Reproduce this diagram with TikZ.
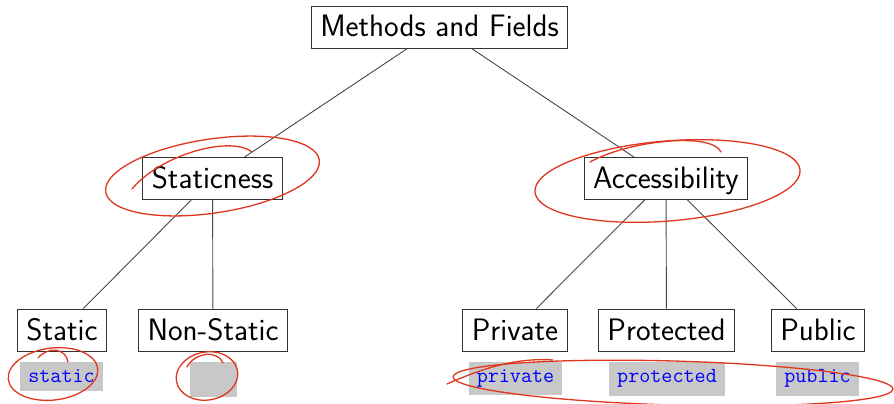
\documentclass[tikz,border=0pt]{standalone}
\usepackage{fontspec}
\definecolor{codegray}{RGB}{200,200,200}
\definecolor{pen}{RGB}{222,55,30}
\begin{document}
\begin{tikzpicture}[x=1pt,y=-1pt,
  tn/.style={draw=black!80, line width=0.9pt, fill=white,
    font=\sffamily\fontsize{31}{36}\selectfont,
    inner xsep=9pt, inner ysep=9.5pt, text height=21.5pt, text depth=1.5pt},
  cb/.style={fill=codegray, text=blue, anchor=north,
    font=\ttfamily\fontsize{21.5}{24}\selectfont,
    inner xsep=8pt, inner ysep=8pt},
  edge/.style={draw=black!72, line width=0.9pt},
  ink/.style={draw=pen, line width=1.3pt, line cap=round}]
\useasboundingbox (0,0) rectangle (894,404);
% tree nodes
\node[tn] (m) at (439.5,27) {Methods and Fields};
\node[tn] (s) at (212.5,178.5) {Staticness};
\node[tn] (a) at (666,178.5) {Accessibility};
\node[tn] (st) at (62,330) {Static};
\node[tn] (ns) at (213,330) {Non-Static};
\node[tn] (pv) at (515,330) {Private};
\node[tn] (pt) at (666.5,330) {Protected};
\node[tn] (pb) at (818,330) {Public};
% code labels
\node[cb] (cst) at (61.5,361.5) {static};
\node[cb, minimum width=47pt, minimum height=35pt] (cns) at (213.5,362) {};
\node[cb] (cpv) at (515.5,361.5) {private};
\node[cb] (cpt) at (667,361.5) {protected};
\node[cb] (cpb) at (817.5,361.5) {public};
% edges
\draw[edge] (m) -- (s);
\draw[edge] (m) -- (a);
\draw[edge] (s) -- (st);
\draw[edge] (s) -- (ns);
\draw[edge] (a) -- (pv);
\draw[edge] (a) -- (pt);
\draw[edge] (a) -- (pb);
% hand-drawn annotations
\draw[ink, rotate around={8.5:(212.5,176)}] (212.5,176) ellipse [x radius=108pt, y radius=37pt];
\draw[ink] (132,189) .. controls (160,155) and (230,135) .. (252,152);
\draw[ink, rotate around={4.7:(667.5,181)}] (667.5,181) ellipse [x radius=133pt, y radius=40pt];
\draw[ink] (590,162) .. controls (630,140) and (712,132) .. (721,152);
\draw[ink, rotate around={7:(53,374)}] (53,374) ellipse [x radius=45pt, y radius=26pt];
\draw[ink] (38,358) .. controls (48,346) and (66,348) .. (68,362);
\draw[ink, rotate around={10:(207,376)}] (207,376) ellipse [x radius=31pt, y radius=24pt];
\draw[ink] (187,367) .. controls (195,352) and (218,350) .. (223,363);
\draw[ink, rotate around={-1.6:(673,383)}] (673,383) ellipse [x radius=220pt, y radius=22pt];
\draw[ink] (447,384) .. controls (490,365) and (520,358) .. (553,360);
\end{tikzpicture}
\end{document}
